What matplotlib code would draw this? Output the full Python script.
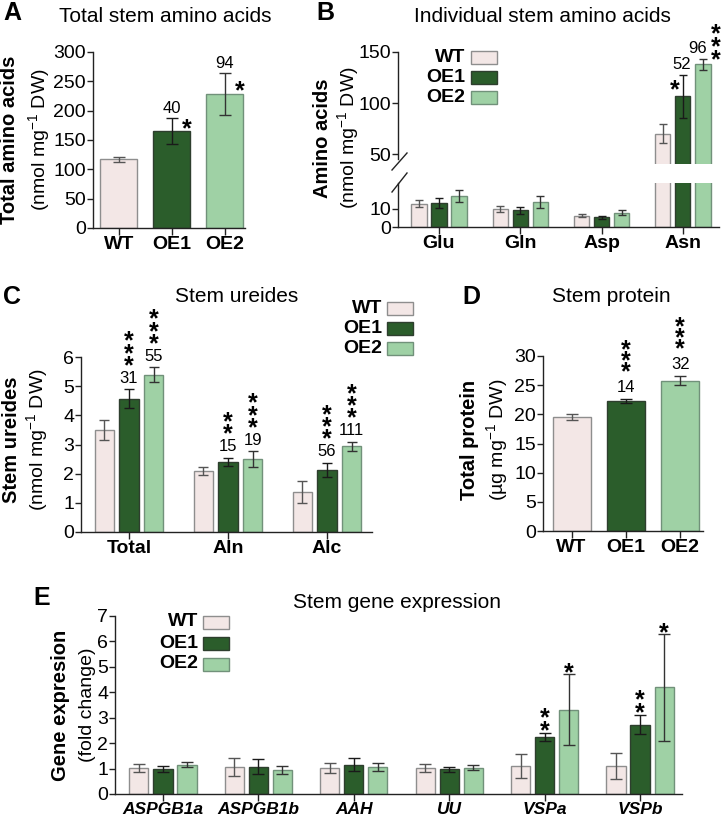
import numpy as np
import matplotlib
matplotlib.use("Agg")
import matplotlib.pyplot as plt
from matplotlib.patches import Rectangle
from matplotlib.lines import Line2D

plt.rcParams['font.family'] = ['Liberation Sans', 'DejaVu Sans']
plt.rcParams['mathtext.fontset'] = 'custom'
plt.rcParams['mathtext.rm'] = 'Liberation Sans'
plt.rcParams['mathtext.it'] = 'Liberation Sans:italic'
plt.rcParams['mathtext.bf'] = 'Liberation Sans:bold'

W, H = 724, 819
PT = 0.72   # points per pixel at dpi 100

lines = ['WT', 'OE1', 'OE2']
colors = ['#f3e7e6', '#2b5d2b', '#9fd1a5']
edges = ['#8e8e8e', '#2e3e2e', '#71917a']
ecols = ['#555555', '#1a1a1a', '#333333']

# A - total stem amino acids
a_mean = [117, 165, 229]
a_err = [4, 22, 36]

# B - individual stem amino acids
b_cats = ['Glu', 'Gln', 'Asp', 'Asn']
b_wt = [13.0, 10.0, 6.3, 70.0]
b_wt_err = [1.7, 1.5, 0.9, 9.0]
b_oe1 = [13.5, 9.2, 5.4, 106.6]
b_oe1_err = [2.7, 2.0, 0.8, 21.0]
b_oe2 = [17.3, 14.0, 8.0, 137.8]
b_oe2_err = [3.4, 3.2, 1.6, 5.5]

# C - stem ureides
c_cats = ['Total', 'Aln', 'Alc']
c_wt = [3.49, 2.09, 1.37]
c_wt_err = [0.34, 0.15, 0.38]
c_oe1 = [4.57, 2.40, 2.14]
c_oe1_err = [0.33, 0.15, 0.24]
c_oe2 = [5.39, 2.50, 2.94]
c_oe2_err = [0.26, 0.27, 0.16]
c_oe1_lab = ['31', '15', '56']
c_oe1_stars = [3, 2, 3]
c_oe2_lab = ['55', '19', '111']
c_oe2_stars = [3, 3, 3]

# D - stem protein
d_mean = [19.5, 22.3, 25.8]
d_err = [0.55, 0.3, 0.75]
d_lab = [None, '14', '32']
d_stars = [0, 3, 3]

# E - stem gene expression
e_genes = ['ASPGB1a', 'ASPGB1b', 'AAH', 'UU', 'VSPa', 'VSPb']
e_wt = [1.02, 1.06, 1.02, 1.02, 1.10, 1.11]
e_wt_err = [0.16, 0.36, 0.19, 0.16, 0.48, 0.52]
e_oe1 = [0.99, 1.08, 1.16, 0.97, 2.23, 2.73]
e_oe1_err = [0.12, 0.28, 0.26, 0.10, 0.16, 0.37]
e_oe2 = [1.16, 0.94, 1.06, 1.03, 3.32, 4.19]
e_oe2_err = [0.11, 0.16, 0.14, 0.10, 1.39, 2.10]
e_oe1_stars = [0, 0, 0, 0, 2, 2]
e_oe2_stars = [0, 0, 0, 0, 1, 1]

fig = plt.figure(figsize=(W/100, H/100), dpi=100)


def fx(px): return px/W
def fy(py): return 1 - py/H


def add_ax(l, t, r, b):
    return fig.add_axes([l/W, 1 - b/H, (r - l)/W, (b - t)/H])


def style(ax, fs=14):
    ax.spines['top'].set_visible(False)
    ax.spines['right'].set_visible(False)
    for s in ['left', 'bottom']:
        ax.spines[s].set_linewidth(1.0)
        ax.spines[s].set_color('#222222')
    ax.tick_params(direction='out', length=4, width=1, color='#222222', labelsize=fs, pad=1)
    ax.tick_params(axis='x', length=5)


def bar1(ax, x, m, e, w, i, cap):
    ax.bar(x, m, w, color=colors[i], edgecolor=edges[i], lw=1, zorder=2)
    ax.errorbar(x, m, yerr=e, fmt='none', ecolor=ecols[i],
                elinewidth=1, capsize=cap, capthick=1, zorder=3)


def num(ax, x, y, lab, up, dx=0, fs=12):
    ax.annotate(lab, (x, y), xytext=(dx*PT, up*PT - 0.36*fs), textcoords='offset points',
                ha='center', va='baseline', fontsize=fs)


def stars(ax, x, y, n, up, step=12, dx=0, fs=18):
    # n asterisks stacked in one text, lowest one centred 'up' px above (x, y)
    if n == 0:
        return
    em = fs/PT
    ls = max((step - 0.21*em)/(0.76*em), 0.05)
    ax.annotate('\n'.join(['*']*n), (x, y), xytext=(dx*PT, up*PT - 0.56*fs),
                textcoords='offset points', ha='center', va='baseline', fontsize=fs,
                fontweight='bold', linespacing=ls)


def ylab(xb, xu, yc, bold, unit, fs=14.5):
    fig.text(fx(xb), fy(yc), bold, rotation=90, ha='center', va='center', fontsize=fs, fontweight='bold')
    fig.text(fx(xu), fy(yc), unit, rotation=90, ha='center', va='center', fontsize=14)


def legend(xr, x0, y0, dy):
    for i in range(3):
        yc = y0 + i*dy
        fig.text(fx(xr), fy(yc), lines[i], ha='right', va='center', fontsize=14, fontweight='bold')
        fig.patches.append(Rectangle((fx(x0), fy(yc + 6.5)), 26/W, 13/H, transform=fig.transFigure,
                                     fc=colors[i], ec=edges[i], lw=1))


unit = '(nmol mg$^{-1}$ DW)'

# ---------------- A
ax = add_ax(93, 52, 245, 228)
style(ax)
xa = np.arange(3)
for i in range(3):
    bar1(ax, xa[i], a_mean[i], a_err[i], 0.7, i, 4.5)
ax.set_xlim(-0.49, 2.38)
ax.set_ylim(0, 300)
ax.set_yticks(range(0, 301, 50))
ax.set_xticks(xa)
ax.set_xticklabels(lines, fontweight='bold')
num(ax, 1, a_mean[1] + a_err[1], '40', 11)
stars(ax, 1, a_mean[1] + a_err[1], 1, -4, dx=15)
num(ax, 2, a_mean[2] + a_err[2], '94', 10.5)
stars(ax, 2, a_mean[2] + a_err[2], 1, -11.5, dx=15)
ylab(10, 39, 140, 'Total amino acids', unit)

# ---------------- B
xb = np.arange(4)
offs = [-0.246, 0, 0.246]
bser = [(b_wt, b_wt_err), (b_oe1, b_oe1_err), (b_oe2, b_oe2_err)]

axu = add_ax(398, 52, 719, 164.3)
axl = add_ax(398, 183, 719, 227)
for a in (axu, axl):
    style(a)
    for i, (m, e) in enumerate(bser):
        for g in range(4):
            bar1(a, xb[g] + offs[i], m[g], e[g], 0.185, i, 3)
    a.set_xlim(-0.504, 3.443)
axu.set_ylim(40, 150)
axu.set_yticks([50, 100, 150])
axu.spines['bottom'].set_visible(False)
axu.spines['left'].set_bounds(45, 150)
axu.set_xticks([])
axl.set_ylim(0, 24.4)
axl.set_yticks([0, 10])
axl.set_xticks(xb)
axl.set_xticklabels(b_cats, fontweight='bold')
fig.add_artist(Line2D([fx(392), fx(407)], [fy(170), fy(153)], transform=fig.transFigure, color='#222222', lw=1))
fig.add_artist(Line2D([fx(392), fx(407)], [fy(192), fy(173)], transform=fig.transFigure, color='#222222', lw=1))
top1 = b_oe1[3] + b_oe1_err[3]
top2 = b_oe2[3] + b_oe2_err[3]
num(axu, 3, top1, '52', 12, dx=-1)
stars(axu, 3, top1, 1, -8, dx=-8)
num(axu, 3 + offs[2], top2, '96', 12, dx=-5)
stars(axu, 3 + offs[2], top2, 3, 6, step=13, dx=13)
ylab(322, 348, 138, 'Amino acids', unit)
legend(465, 471, 57.5, 20)

# ---------------- C
ax = add_ax(81, 357, 372, 532)
style(ax)
xc = np.arange(3)
co = [-0.25, 0, 0.25]
cser = [(c_wt, c_wt_err), (c_oe1, c_oe1_err), (c_oe2, c_oe2_err)]
for i, (m, e) in enumerate(cser):
    for g in range(3):
        bar1(ax, xc[g] + co[i], m[g], e[g], 0.195, i, 3.5)
ax.set_xlim(-0.485, 2.455)
ax.set_ylim(0, 6)
ax.set_yticks(range(7))
ax.set_xticks(xc)
ax.set_xticklabels(c_cats, fontweight='bold')
for g in range(3):
    t1 = c_oe1[g] + c_oe1_err[g]
    t2 = c_oe2[g] + c_oe2_err[g]
    num(ax, g + co[1], t1, c_oe1_lab[g], 12.5)
    stars(ax, g + co[1], t1, c_oe1_stars[g], 30, step=12.5)
    num(ax, g + co[2], t2, c_oe2_lab[g], 12.5)
    stars(ax, g + co[2], t2, c_oe2_stars[g], 30, step=12.5)
ylab(12, 37, 440, 'Stem ureides', unit)
legend(382, 387, 308.5, 20)

# ---------------- D
ax = add_ax(543, 356, 703, 531)
style(ax)
xd = np.arange(3)
for i in range(3):
    bar1(ax, xd[i], d_mean[i], d_err[i], 0.70, i, 4.5)
ax.set_xlim(-0.525, 2.42)
ax.set_ylim(0, 30)
ax.set_yticks(range(0, 31, 5))
ax.set_xticks(xd)
ax.set_xticklabels(lines, fontweight='bold')
for i in range(3):
    if d_lab[i]:
        t = d_mean[i] + d_err[i]
        num(ax, i, t, d_lab[i], 13.5)
        stars(ax, i, t, d_stars[i], 33.5, step=11.5)
ylab(470, 497, 440, 'Total protein', '(µg mg$^{-1}$ DW)')

# ---------------- E
ax = add_ax(115, 616, 682, 794)
style(ax)
xe = np.arange(6)
eo = [-0.252, 0, 0.252]
eser = [(e_wt, e_wt_err), (e_oe1, e_oe1_err), (e_oe2, e_oe2_err)]
for i, (m, e) in enumerate(eser):
    for g in range(6):
        bar1(ax, xe[g] + eo[i], m[g], e[g], 0.2, i, 4)
ax.set_xlim(-0.503, 5.44)
ax.set_ylim(0, 7)
ax.set_yticks(range(8))
ax.set_xticks(xe)
ax.set_xticklabels(e_genes, fontweight='bold', fontstyle='italic', fontsize=12.5)
for g in range(6):
    stars(ax, g + eo[1], e_oe1[g] + e_oe1_err[g], e_oe1_stars[g], 9, step=13)
    stars(ax, g + eo[2], e_oe2[g] + e_oe2_err[g], e_oe2_stars[g], 8, step=13)
ylab(60, 87, 705, 'Gene expresion', '(fold change)')
legend(198, 203, 622, 21)

# titles and panel letters
for x, y, s in [(165, 17, 'Total stem amino acids'), (542, 16, 'Individual stem amino acids'),
                (237, 297, 'Stem ureides'), (611, 297, 'Stem protein'), (397, 603, 'Stem gene expression')]:
    fig.text(fx(x), fy(y), s, ha='center', va='center', fontsize=15)
for x, y, s in [(12, 13, 'A'), (325, 13, 'B'), (12, 297, 'C'), (471, 297, 'D'), (42, 598, 'E')]:
    fig.text(fx(x), fy(y), s, ha='center', va='center', fontsize=18, fontweight='bold')

fig.savefig('out.png', dpi=100)
